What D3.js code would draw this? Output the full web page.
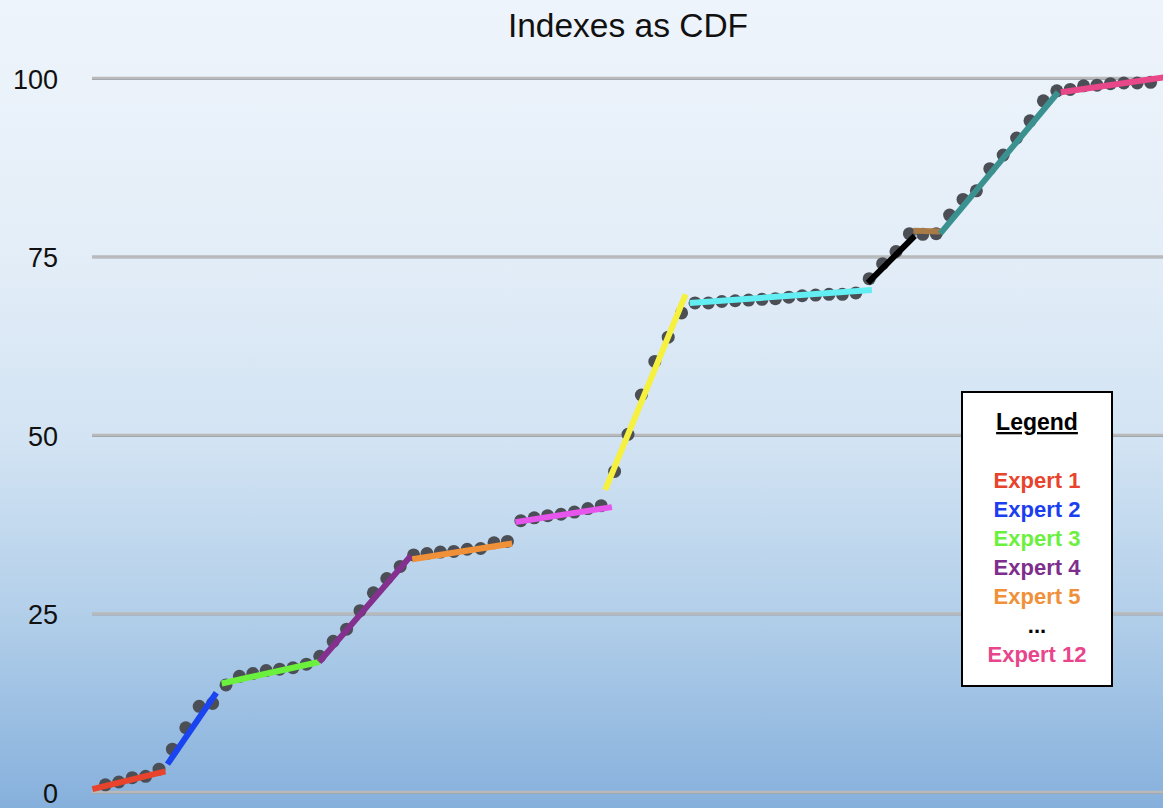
<!DOCTYPE html>
<html>
<head>
<meta charset="utf-8">
<script src="https://cdn.jsdelivr.net/npm/d3@7"></script>
<style>
  html, body { margin: 0; padding: 0; overflow: hidden; }
  svg { display: block; }
</style>
</head>
<body>
<svg id="chart" width="1163" height="808"></svg>
<script>
// Cumulative index values, one per ranked item (index 0 .. 78)
const indexValues = [
  1.0, 1.4, 2.0, 2.2, 3.2,                       // expert 1
  6.0, 9.0, 12.0, 12.4,                          // expert 2
  15.0, 16.2, 16.6, 17.0, 17.2, 17.4, 17.9,      // expert 3
  19.0, 21.1, 22.8, 25.4, 27.9, 29.9, 31.6,      // expert 4
  33.2, 33.4, 33.6, 33.7, 34.0, 34.1, 34.9, 35.1,// expert 5
  38.0, 38.4, 38.7, 38.9, 39.2, 39.7, 40.1,      // expert 6
  44.9, 50.1, 55.6, 60.3, 63.7, 67.1,            // expert 7
  68.5, 68.5, 68.7, 68.8, 68.9, 69.0, 69.1, 69.3, 69.5, 69.6, 69.7, 69.7, 69.9, // expert 8
  71.9, 74.0, 75.7, 78.2,                        // expert 9
  78.1, 78.2,                                    // expert 10
  80.8, 83.0, 84.2, 87.3, 89.2, 91.6, 94.0, 96.8, 98.2, // expert 11
  98.4, 98.9, 99.0, 99.2, 99.3, 99.3, 99.4       // expert 12
];

// Fitted trend segment per expert: start/end index and start/end value
const trendX0 = [-0.97, 4.63, 8.68, 15.95, 22.9, 30.6, 37.3, 43.6, 56.9, 60.3, 62.3, 71.3];
const trendY0 = [0.4, 3.9, 15.2, 18.2, 32.6, 37.8, 42.3, 68.5, 71.3, 78.6, 78.2, 98.0];
const trendX1 = [4.48, 8.28, 15.96, 22.8, 30.35, 37.8, 43.3, 57.2, 60.4, 62.3, 71.1, 79.0];
const trendY1 = [2.9, 13.9, 18.2, 33.1, 34.8, 39.9, 69.7, 70.3, 77.9, 78.5, 98.0, 100.1];
const trendColors = ["#e8432c", "#1a44f0", "#6cf03e", "#84308f", "#f0913a", "#e656ec",
                     "#f6f03e", "#62eef2", "#000000", "#a87a46", "#3a9190", "#e8478a"];

const yTicks = [0, 25, 50, 75, 100];
const legendLabels = ["Expert 1", "Expert 2", "Expert 3", "Expert 4", "Expert 5", "...", "Expert 12"];
const legendColors = ["#e8432c", "#1a3ef0", "#6cf03e", "#7e2e8c", "#f0913a", "#000000", "#e8458a"];

const W = 1163, H = 808;
const svg = d3.select("#chart");

// Background gradient
const defs = svg.append("defs");
const grad = defs.append("linearGradient").attr("id", "bg")
  .attr("x1", 0).attr("y1", 0).attr("x2", 0).attr("y2", 1);
[[0, "#eef4fb"], [0.3, "#e4eef8"], [0.55, "#d2e3f3"], [0.75, "#b4d0ea"], [1, "#86b0dc"]]
  .forEach(([o, c]) => grad.append("stop").attr("offset", o).attr("stop-color", c));
svg.append("rect").attr("width", W).attr("height", H).attr("fill", "url(#bg)");

const x = d3.scaleLinear().domain([-1, 79]).range([92, 1164]);
const y = d3.scaleLinear().domain([0, 100]).range([792, 78]);

// Title
svg.append("text")
  .attr("x", 628).attr("y", 37)
  .attr("text-anchor", "middle")
  .attr("font-family", "Liberation Sans, Arial, Helvetica, sans-serif")
  .attr("font-size", 33.5)
  .attr("fill", "#111")
  .text("Indexes as CDF");

// Y axis with full-width gridlines
const yAxis = d3.axisLeft(y).tickValues(yTicks).tickSize(0).tickPadding(0);
const gAxis = svg.append("g").attr("transform", "translate(58,0)").call(yAxis);
gAxis.select(".domain").remove();
gAxis.selectAll("text")
  .attr("font-family", "Liberation Sans, Arial, Helvetica, sans-serif")
  .attr("font-size", 27)
  .attr("fill", "#111")
  .attr("dy", "0.37em")
  .attr("x", 0);

const grid = svg.append("g");
grid.selectAll("line.shadow").data(yTicks).join("line")
  .attr("class", "shadow")
  .attr("x1", x(-1)).attr("x2", W)
  .attr("y1", d => y(d) + 1.5).attr("y2", d => y(d) + 1.5)
  .attr("stroke", "#9aa3ad").attr("stroke-width", 1.2);
grid.selectAll("line.main").data(yTicks).join("line")
  .attr("class", "main")
  .attr("x1", x(-1)).attr("x2", W)
  .attr("y1", d => y(d)).attr("y2", d => y(d))
  .attr("stroke", "#b9b9b9").attr("stroke-width", 2.6);

// Data points
svg.append("g").selectAll("circle").data(indexValues).join("circle")
  .attr("cx", (d, i) => x(i))
  .attr("cy", d => y(d))
  .attr("r", 6.5)
  .attr("fill", "#4b4f55");

// Trend segments per expert
svg.append("g").selectAll("line").data(trendColors).join("line")
  .attr("x1", (d, i) => x(trendX0[i]))
  .attr("y1", (d, i) => y(trendY0[i]))
  .attr("x2", (d, i) => x(trendX1[i]))
  .attr("y2", (d, i) => y(trendY1[i]))
  .attr("stroke", d => d)
  .attr("stroke-width", 6);

// Legend box
const lg = svg.append("g");
lg.append("rect")
  .attr("x", 962).attr("y", 392).attr("width", 150).attr("height", 294)
  .attr("fill", "#ffffff").attr("stroke", "#000").attr("stroke-width", 2);
lg.append("text")
  .attr("x", 1037).attr("y", 430)
  .attr("text-anchor", "middle")
  .attr("font-family", "Liberation Sans, Arial, Helvetica, sans-serif")
  .attr("font-weight", "bold").attr("font-size", 23)
  .attr("text-decoration", "underline")
  .attr("fill", "#000")
  .text("Legend");
lg.selectAll("text.item").data(legendLabels).join("text")
  .attr("class", "item")
  .attr("x", 1037)
  .attr("y", (d, i) => 488 + i * 29)
  .attr("text-anchor", "middle")
  .attr("font-family", "Liberation Sans, Arial, Helvetica, sans-serif")
  .attr("font-weight", "bold").attr("font-size", 22)
  .attr("fill", (d, i) => legendColors[i])
  .text(d => d);
</script>
</body>
</html>
